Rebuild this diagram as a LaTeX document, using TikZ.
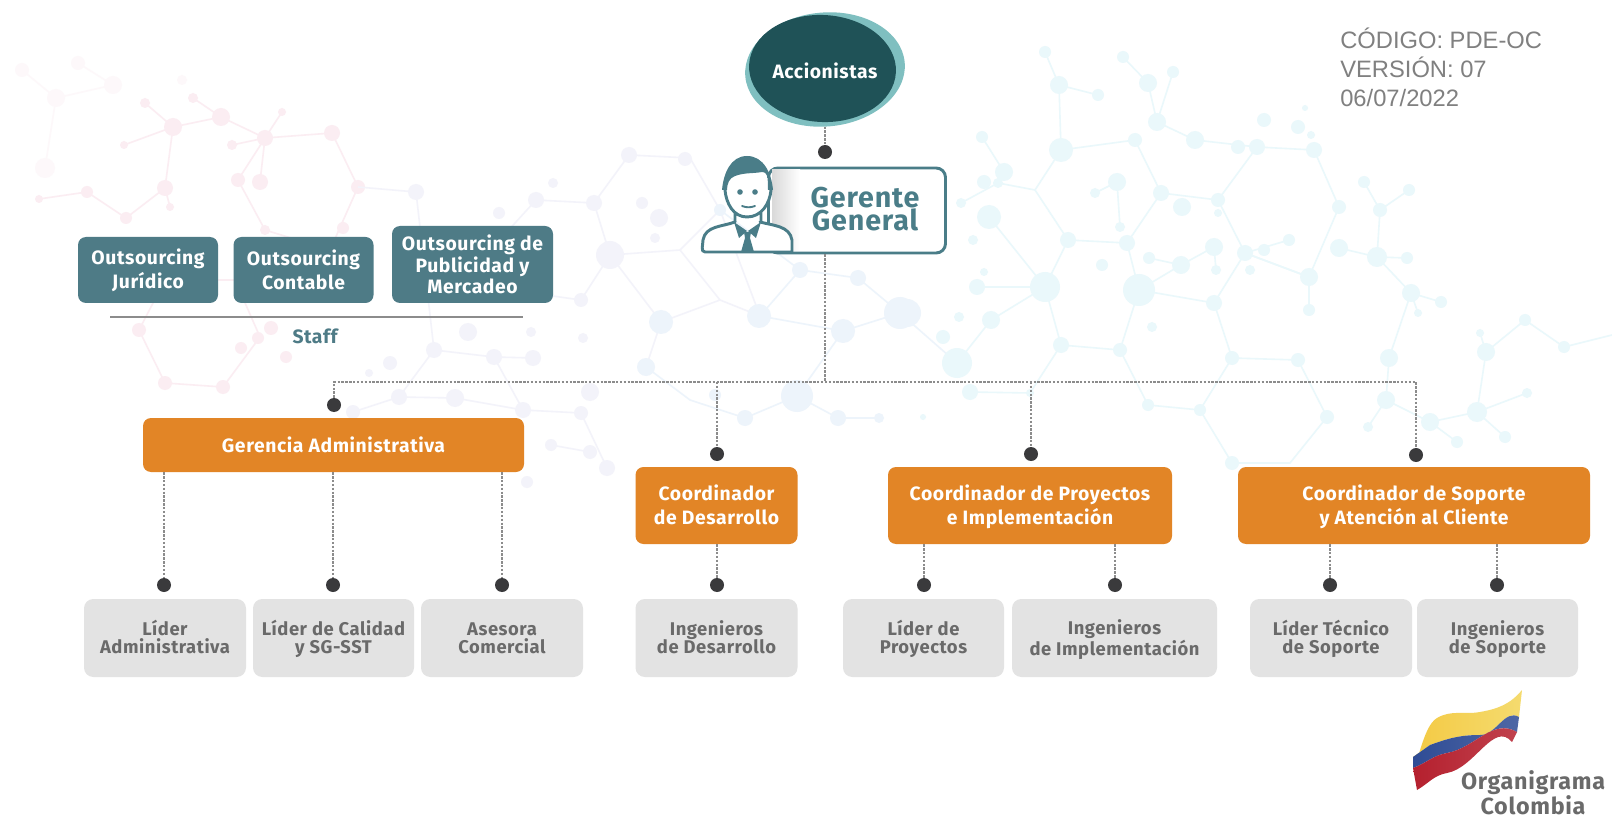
\documentclass[tikz,border=0pt]{standalone}
\usepackage{fontspec}
\setmainfont{Fira Sans}[LetterSpace=3]
\newfontfamily\codefont{Liberation Sans}
\usetikzlibrary{shapes.geometric}
\definecolor{tealdark}{HTML}{1F5257}
\definecolor{teallight}{HTML}{7FBFC0}
\definecolor{tealbox}{HTML}{4E7B86}
\definecolor{tealline}{HTML}{4A7D88}
\definecolor{orangebox}{HTML}{E28526}
\definecolor{greybox}{HTML}{E3E3E3}
\definecolor{greytext}{HTML}{6A6A6A}
\definecolor{dotdark}{HTML}{3A3A3C}
\definecolor{bgpink}{HTML}{FBEDF2}
\definecolor{bglav}{HTML}{F3F3FA}
\definecolor{bgblue}{HTML}{EDF4FB}
\definecolor{bgcyan}{HTML}{EAF8FB}
\definecolor{flagyel}{HTML}{F2D24B}
\definecolor{flagblu}{HTML}{2F4C95}
\definecolor{flagred}{HTML}{B5202E}
\newcommand{\molpts}[2]{\foreach \px/\py/\pr in {#2} \fill [#1] (\px,\py) circle [radius=\pr*0.75pt];}
\newcommand{\rl}{\vphantom{Ág}}
\newcommand{\rlt}{\vphantom{Á}}
\newcommand{\rlb}{\vphantom{g}}
\begin{document}
\begin{tikzpicture}[x=0.75pt,y=-0.75pt,
  bgline/.style={line width=1.2pt},
  boxsize/.style 2 args={minimum width=#1*0.75pt,minimum height=#2*0.75pt},
  staffbox/.style={rectangle,rounded corners=6pt,fill=tealbox,text=white,align=center,inner sep=0pt,font=\bfseries\fontsize{14.5}{18.2}\selectfont},
  orgbox/.style={rectangle,rounded corners=6pt,fill=orangebox,text=white,align=center,inner sep=0pt,font=\bfseries\fontsize{14.5}{18.4}\selectfont},
  rolebox/.style={rectangle,rounded corners=7pt,fill=greybox,text=greytext,align=center,inner sep=0pt,font=\bfseries\fontsize{13.8}{13.6}\selectfont},
  dotmark/.style={circle,fill=dotdark,inner sep=0pt,minimum size=10.5pt},
  link/.style={draw=black!45,line width=0.8pt,dash pattern=on 1.8pt off 1.1pt},
  person/.style={draw=tealline,line width=2.2pt,line join=round,line cap=round}]
\useasboundingbox (0,0) rectangle (1612,816);
\fill [white] (0,0) rectangle (1612,816);
% Background, pink
\draw [bgpink,bgline] (173,127)--(221,117)--(193,98) (173,127)--(145,103) (173,127)--(124,145)
  (173,127)--(165,188)--(126,218)--(87,192)--(39,199) (165,188)--(170,207) (221,117)--(265,138)--(282,112) (265,138)--(232,145) (265,138)--(260,182);
\draw [bgpink,bgline] (265,138)--(332,133)--(358,187)--(330,250)--(265,230)--(238,180)--cycle;
\draw [bgpink,bgline] (139,330)--(165,383)--(223,387)--(260,337)--(235,280)--(165,280)--cycle;
\draw [bgpink!40,bgline] (22,70)--(56,98)--(113,85)--(78,63) (56,98)--(45,168);
\molpts{bgpink}{173/127/9,221/117/9,145/103/5,193/98/5,124/145/4,165/188/8,126/218/6,87/192/6,39/199/4,170/207/4,265/138/8,282/112/4,232/145/5,332/133/8,358/187/7,260/182/8,238/180/7,265/230/5,343/228/6,139/330/7,271/328/7,223/387/7,165/383/7,241/348/6,286/357/6,258/338/6}
\molpts{bgpink!40}{22/70/7,78/63/7,56/98/9,113/85/9,45/168/10,182/80/5}
% Background, lilac
\draw [bglav,bgline] (358,187)--(416,192)--(434,350)--(494,357)--(523,410)--(581,413)--(607,468) (434,350)--(399,397) (494,357)--(533,358) (523,410)--(455,398)--(399,397)--(353,412) (551,445)--(590,452);
\draw [bglav,bgline] (536,200)--(594,203)--(610,255)--(581,300)--(510,290)--(495,245)--cycle;
\draw [bglav,bgline] (594,203)--(629,155)--(690,158)--(720,210)--(680,250)--(610,255);
\draw [bglav,bgline] (610,255)--(661,322)--(646,367) (680,250)--(720,300)--(661,322) (720,210)--(760,316)--(720,300);
\molpts{bglav}{416/192/8,434/350/8,494/357/8,533/358/8,468/332/9,583/338/5,531/332/5,390/363/7,369/373/4,455/398/9,399/397/8,353/412/7,523/410/8,590/392/9,581/413/7,590/452/7,607/468/8,551/445/6,527/482/6,536/200/8,594/203/8,499/213/6,553/183/5,581/300/7,610/255/14,642/203/6,659/218/9,655/238/5,629/155/8,685/159/7}
% Background, blue
\draw [bgblue,bgline] (720,210)--(800,270)--(858,278)--(900,313)--(843,331)--(760,316)--(800,270) (843,331)--(797,396)--(745,418)--(690,400)--(646,367) (797,396)--(838,418)--(879,418) (900,313)--(957,363);
\molpts{bgblue}{661/322/12,646/367/9,759/316/12,800/270/8,858/278/8,900/313/16,843/331/12,797/396/16,745/418/8,838/418/8,879/418/5,715/395/6,907/313/14,720/210/6}
% Background, cyan
\draw [bgcyan,bgline] (1061,150)--(1135,140)--(1161,193)--(1127,243)--(1068,240)--(1035,190)--cycle;
\draw [bgcyan,bgline] (1218,200)--(1257,147)--(1314,150)--(1339,207)--(1309,277)--(1245,253)--cycle;
\draw [bgcyan,bgline] (1161,193)--(1218,200) (1245,253)--(1214,303)--(1139,290)--(1127,243);
\draw [bgcyan,bgline] (1068,240)--(1045,287)--(1061,345)--(1120,350)--(1139,290);
\draw [bgcyan,bgline] (1214,303)--(1232,358)--(1200,410)--(1148,405)--(1120,350);
\draw [bgcyan,bgline] (1232,358)--(1298,360)--(1327,417)--(1290,463)--(1232,463)--(1200,410);
\draw [bgcyan,bgline] (1035,190)--(998,183)--(961,203) (1004,172)--(982,137) (989,217)--(1045,287)--(991,320)--(957,363) (1045,287)--(977,287) (1061,345)--(1030,393)--(970,392) (1061,150)--(1059,85)--(1045,52) (1059,85)--(1098,95) (1123,57)--(1148,83)--(1157,122)--(1173,72) (1157,122)--(1195,140)--(1257,147);
\draw [bgcyan,bgline] (1117,182)--(1095,193) (1117,182)--(1120,227) (1214,247)--(1181,265)--(1149,258) (1181,265)--(1139,290) (1214,247)--(1216,270) (1245,253)--(1289,240) (1245,253)--(1309,277)--(1309,310);
\draw [bgcyan,bgline] (1364,182)--(1380,210)--(1409,190) (1380,210)--(1377,257)--(1339,248) (1377,257)--(1407,258) (1377,257)--(1411,293)--(1441,302) (1411,293)--(1418,313) (1411,293)--(1389,358)--(1386,400)--(1368,427) (1386,400)--(1430,422)--(1477,412)--(1486,352)--(1525,320)--(1564,347)--(1612,335) (1486,352)--(1480,333) (1477,412)--(1527,393) (1477,412)--(1505,437) (1430,422)--(1457,442);
\molpts{bgcyan}{1045/52/6,1059/85/9,1098/95/6,1123/57/6,1148/83/9,1173/72/6,1157/122/9,1195/140/9,1238/147/7,1257/147/8,1264/120/7,1298/127/7,1305/108/3,1311/135/4,1061/150/12,1135/140/7,1161/193/8,1127/243/8,1068/240/8,1117/182/9,1095/193/5,1120/227/5,1182/207/9,1218/200/7,1218/213/4,1214/247/9,1181/265/9,1149/258/6,1102/265/6,1216/270/5,1264/250/6,1289/240/6,1250/270/5,1245/253/8,1139/290/16,1045/287/15,1214/303/8,1309/277/9,1339/207/7,1314/150/8,1309/310/6,1339/248/9,1364/182/6,1380/210/7,1409/190/6,1377/257/10,1407/258/6,1411/293/9,1441/302/6,1418/313/4,991/320/9,984/272/4,977/287/8,989/217/12,1004/172/9,982/137/6,984/182/7,973/240/5,961/203/5,998/183/5,959/317/5,943/337/7,957/363/15,970/392/8,1030/393/4,923/417/3,1152/327/5,1061/345/8,1120/350/7,1232/358/7,1298/360/7,1327/417/7,1200/410/6,1148/405/6,1232/463/7,1389/358/9,1386/400/9,1430/422/9,1477/412/10,1486/352/9,1525/320/6,1564/347/6,1527/393/5,1505/437/6,1457/442/6,1368/427/5,1480/333/4}
% Accionistas
\node [ellipse,fill=teallight,inner sep=0pt,minimum width=160*0.75pt,minimum height=114*0.75pt,rotate=5] (accfondo) at (825,69.5) {};
\node [ellipse,fill=tealdark,inner sep=0pt,minimum width=147*0.75pt,minimum height=107*0.75pt,rotate=-3] (accoval) at (822.5,68.5) {};
\node [text=white,font=\bfseries\fontsize{14.5}{17}\selectfont,inner sep=0pt] (accionistas) at (825,70.5) {Accionistas};
\node [dotmark] (dotgen) at (825,152) {};
\draw [link] (dotgen |- accfondo.south) -- (dotgen);
% Gerente General
\node [draw=tealline,line width=2.2pt,fill=white,rounded corners=7pt,boxsize={177}{85},inner sep=0pt] (genbox) at (857,210.5) {};
\shade [left color=black!15,right color=white] (772,170) rectangle (800,251);
\node [text=tealline,align=center,inner sep=0pt,font=\bfseries\fontsize{21.5}{17.2}\selectfont] (gerente) at (865,209.5) {Gerente\\General};
\fill [white] (703,252) -- (703,238) to [out=-80,in=190] (735,222) -- (747,232) -- (760,222) to [out=-10,in=100] (792,240) -- (792,252) -- cycle;
\draw [person] (705,252) to [out=180,in=-90] (703,240) to [out=80,in=200] (735,222) (760,222) to [out=-15,in=100] (792,240) -- (792,252) -- (705,252);
\fill [white] (724,178) -- (772,178) to [out=-90,in=0] (747,218) to [out=180,in=-90] cycle;
\draw [person] (725,190) to [out=-85,in=180] (747,217) to [out=0,in=-95] (771,190) (735,212) -- (735,222) (761,212) -- (761,222);
\fill [tealline] (722,190) to [out=85,in=180] (747,156) to [out=0,in=95] (773,190) -- (768,190) to [out=95,in=0] (762,172) to [out=190,in=20] (735,176) to [out=200,in=90] (727,190) -- cycle;
\fill [tealline] (734,222) -- (747,231) -- (739,238) -- cycle (761,222) -- (748,231) -- (756,238) -- cycle;
\fill [tealline] (744,232) -- (751,232) -- (750,238) -- (754,252) -- (741,252) -- (745,238) -- cycle;
\fill [tealline] (740,192) circle [radius=2.8*0.75pt] (755,192) circle [radius=2.8*0.75pt];
\draw [tealline,line width=1.4pt,line cap=round] (742,206) to [out=-20,in=200] (755,206);
% Staff
\node [staffbox,boxsize={140}{66}] (jur) at (148,270) {Outsourcing\\Jurídico};
\node [staffbox,boxsize={140}{66}] (con) at (303.5,270) {Outsourcing\\Contable};
\node [staffbox,boxsize={161}{77},font=\bfseries\fontsize{14.5}{16}\selectfont] (pub) at (472.5,264.5) {Outsourcing de\\Publicidad y\\Mercadeo};
\coordinate (staffa) at (110,317);
\coordinate (staffb) at (523,317);
\draw [black!45,line width=0.9pt] (staffa) -- (staffb);
\node [text=tealbox,font=\bfseries\fontsize{14.5}{16}\selectfont,inner sep=0pt] (staff) at (315,336) {Staff};
% Main line
\coordinate (bus) at (825,382);
\node [dotmark] (dotger) at (334,405) {};
\node [dotmark] (dotdes) at (717,454) {};
\node [dotmark] (dotpro) at (1031,454) {};
\node [dotmark] (dotsop) at (1416,455) {};
\draw [link] (dotgen |- genbox.south) -- (bus);
\draw [link] (dotger) -- (dotger |- bus) -- (dotsop |- bus) -- (dotsop);
\draw [link] (dotdes |- bus) -- (dotdes);
\draw [link] (dotpro |- bus) -- (dotpro);
% Coordinators
\node [orgbox,boxsize={381}{54}] (ger) at (333.5,445) {Gerencia Administrativa};
\node [orgbox,boxsize={162}{77}] (des) at (716.5,505.5) {\rl Coordinador\\\rl de Desarrollo};
\node [orgbox,boxsize={284}{77}] (pro) at (1030,505.5) {\rl Coordinador de Proyectos\\\rl e Implementación};
\node [orgbox,boxsize={352}{77}] (sop) at (1414,505.5) {\rl Coordinador de Soporte\\\rl y Atención al Cliente};
% Staff of each coordinator
\node [rolebox,boxsize={162}{78}] (lad) at (165,638) {\rlt Líder\\\rlb Administrativa};
\node [rolebox,boxsize={161}{78}] (cal) at (333.5,638) {\rlt Líder de Calidad\\\rlb y SG-SST};
\node [rolebox,boxsize={162}{78}] (ase) at (502,638) {\rlt Asesora\\\rlb Comercial};
\node [rolebox,boxsize={162}{78}] (ing) at (716.5,638) {\rlt Ingenieros\\\rlb de Desarrollo\rule[-4pt]{0pt}{0pt}};
\node [rolebox,boxsize={161}{78}] (lpr) at (923.5,638) {\rlt Líder de\\\rlb Proyectos};
\node [rolebox,boxsize={205}{78}] (imp) at (1114.5,638) {\rlt Ingenieros\\\rlb de Implementación};
\node [rolebox,boxsize={162}{78}] (ltc) at (1331,638) {\rlt Líder Técnico\\\rlb de Soporte};
\node [rolebox,boxsize={161}{78}] (isp) at (1497.5,638) {\rlt Ingenieros\\\rlb de Soporte};
%
\node [dotmark] (dlad) at (164,585) {};
\node [dotmark] (dcal) at (333,585) {};
\node [dotmark] (dase) at (502,585) {};
\node [dotmark] (ding) at (717,585) {};
\node [dotmark] (dlpr) at (924,585) {};
\node [dotmark] (dimp) at (1115,585) {};
\node [dotmark] (dltc) at (1330,585) {};
\node [dotmark] (disp) at (1497,585) {};
\draw [link] (dlad |- ger.south) -- (dlad);
\draw [link] (dcal |- ger.south) -- (dcal);
\draw [link] (dase |- ger.south) -- (dase);
\draw [link] (ding |- des.south) -- (ding);
\draw [link] (dlpr |- pro.south) -- (dlpr);
\draw [link] (dimp |- pro.south) -- (dimp);
\draw [link] (dltc |- sop.south) -- (dltc);
\draw [link] (disp |- sop.south) -- (disp);
% Code
\node [anchor=north west,align=left,text=black!50,inner sep=0pt,font=\codefont\fontsize{17.8}{21.6}\selectfont] (codigo) at (1340,28) {CÓDIGO: PDE-OC\\VERSIÓN: 07\\06/07/2022};
% Flag
\shade [left color=flagyel!90!orange,right color=flagyel!80!white] (1413,757) to [out=-75,in=210] (1437,718) to [out=30,in=190] (1480,712) to [out=10,in=-130] (1522,690) -- (1519,717) to [out=150,in=0] (1480,735) to [out=180,in=20] (1430,745) -- cycle;
\shade [left color=flagblu,right color=flagblu!85!white] (1413,757) -- (1430,745) to [out=20,in=180] (1480,735) to [out=0,in=150] (1519,717) -- (1517,732) to [out=150,in=10] (1447,753) to [out=190,in=20] (1413,768) -- cycle;
\shade [left color=flagred,right color=flagred!85!white] (1413,768) to [out=20,in=190] (1447,753) to [out=10,in=150] (1517,732) -- (1512,742) to [out=130,in=10] (1447,773) to [out=190,in=30] (1417,790) -- cycle;
\node [text=greytext,align=center,inner sep=0pt,font=\bfseries\fontsize{17.5}{16.2}\selectfont] (logo) at (1533,793) {Organigrama\\Colombia};
\end{tikzpicture}
\end{document}
